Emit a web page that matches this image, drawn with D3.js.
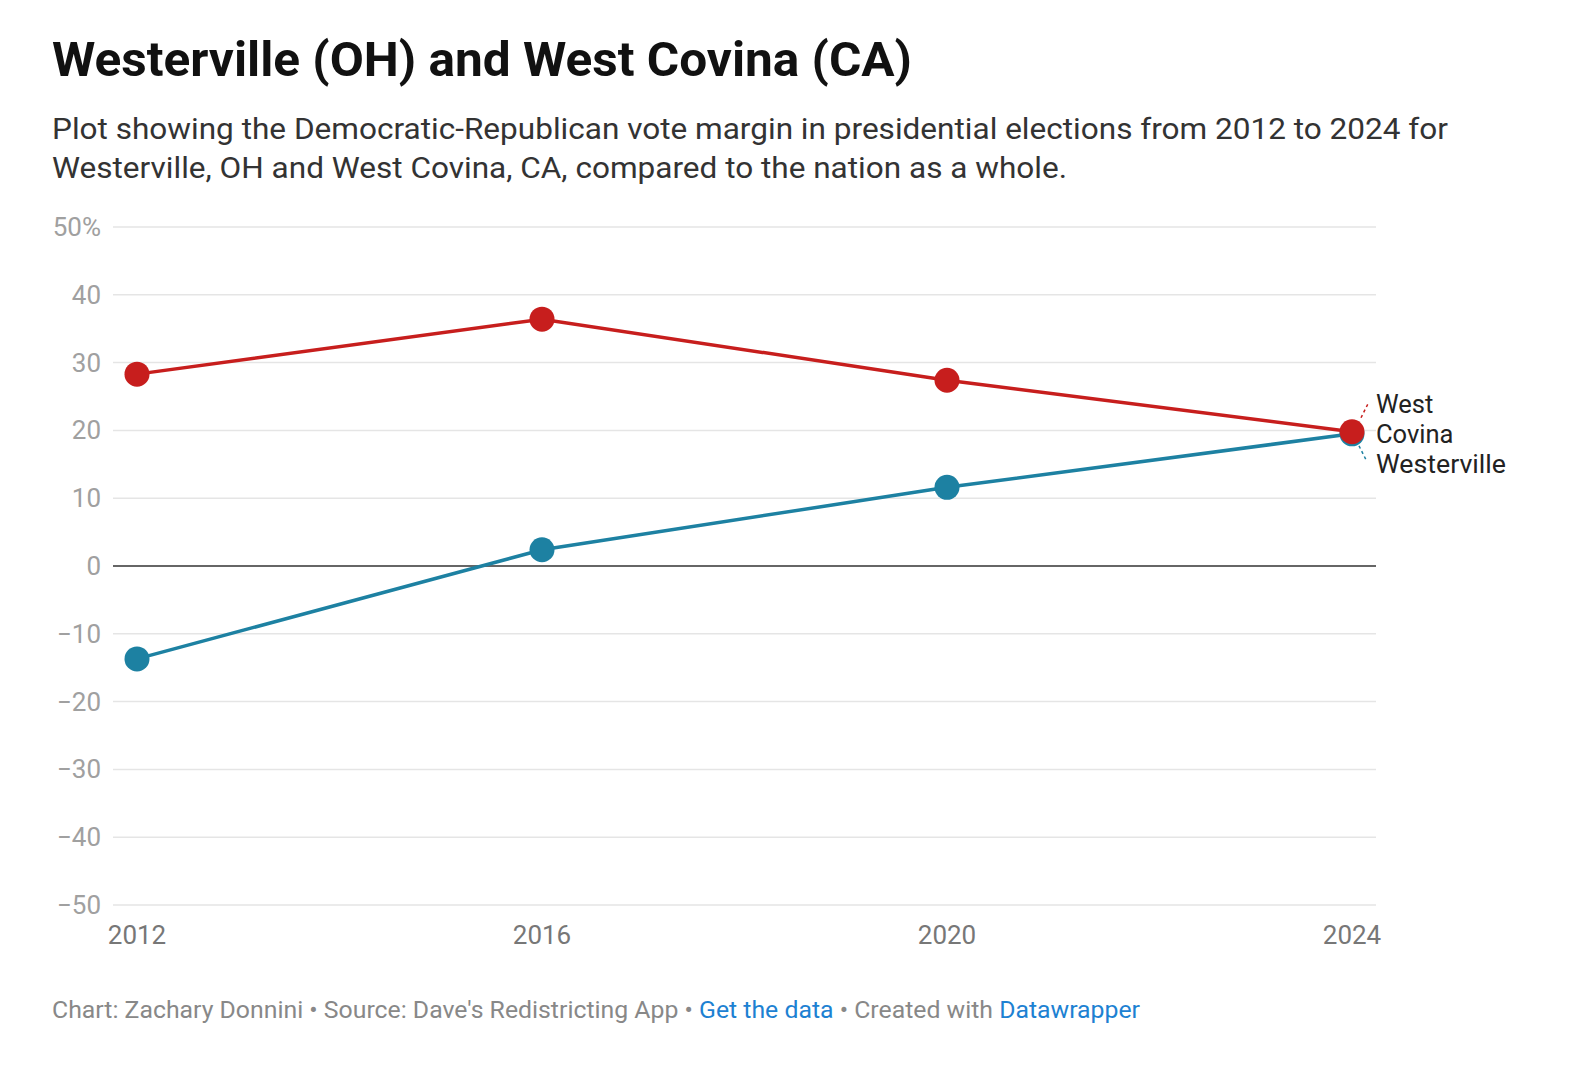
<!DOCTYPE html>
<html><head><meta charset="utf-8">
<script src="https://cdn.jsdelivr.net/npm/d3@7"></script>
<style>
body{margin:0;background:#fff;font-family:Roboto,"Noto Sans",sans-serif;}
</style></head>
<body>
<svg id="chart" width="1570" height="1066"></svg>
<script>
const years = [2012, 2016, 2020, 2024];
const westCovina = [28.3, 36.4, 27.4, 19.8];
const westerville = [-13.7, 2.4, 11.6, 19.5];
const yTicks = [50, 40, 30, 20, 10, 0, -10, -20, -30, -40, -50];
const seriesNames = ["West Covina", "Westerville"];
const colors = ["#c71e1d", "#1d81a2"];

const svg = d3.select("#chart");
const x = d3.scaleLinear().domain([2012, 2024]).range([137, 1352]);
const y = d3.scaleLinear().domain([-50, 50]).range([905, 227]);

svg.append("text").attr("x", 52).attr("y", 76).attr("font-size", 48).attr("font-weight", 700)
  .attr("fill", "#111").attr("textLength", 860).attr("lengthAdjust", "spacingAndGlyphs")
  .text("Westerville (OH) and West Covina (CA)");
svg.append("text").attr("x", 52).attr("y", 139).attr("font-size", 29).attr("fill", "#333")
  .attr("textLength", 1396).attr("lengthAdjust", "spacingAndGlyphs")
  .text("Plot showing the Democratic-Republican vote margin in presidential elections from 2012 to 2024 for");
svg.append("text").attr("x", 52).attr("y", 178).attr("font-size", 29).attr("fill", "#333")
  .attr("textLength", 1015).attr("lengthAdjust", "spacingAndGlyphs")
  .text("Westerville, OH and West Covina, CA, compared to the nation as a whole.");

// grid
const g = svg.append("g");
g.selectAll("line.grid").data(yTicks).join("line")
  .attr("x1", 113).attr("x2", 1376)
  .attr("y1", d => y(d)).attr("y2", d => y(d))
  .attr("stroke", d => d === 0 ? "#333" : "#e5e5e5")
  .attr("stroke-width", d => d === 0 ? 1.6 : 1.5);

g.selectAll("text.yt").data(yTicks).join("text")
  .attr("x", 101).attr("y", d => y(d) + 9)
  .attr("text-anchor", "end").attr("font-size", 26).attr("fill", "#a0a0a0")
  .text(d => d === 50 ? "50%" : (d < 0 ? "\u2212" + Math.abs(d) : d));

g.selectAll("text.xt").data(years).join("text")
  .attr("x", d => x(d)).attr("y", 944)
  .attr("text-anchor", "middle").attr("font-size", 26).attr("fill", "#777")
  .text(d => d);

const series = [westCovina, westerville];
const line = d3.line().x((d, i) => x(years[i])).y(d => y(d));
series.forEach((vals, si) => {
  svg.append("path").attr("d", line(vals)).attr("fill", "none")
    .attr("stroke", colors[si]).attr("stroke-width", 3.5);
});
// draw Westerville dots first so West Covina's 2024 dot sits on top
[1, 0].forEach(si => {
  svg.append("g").selectAll("circle").data(series[si]).join("circle")
    .attr("cx", (d, i) => x(years[i])).attr("cy", d => y(d)).attr("r", 12.5)
    .attr("fill", colors[si]);
});

// labels
const lx = x(2024);
svg.append("line").attr("x1", lx + 9).attr("y1", y(westCovina[3]) - 14)
  .attr("x2", lx + 17).attr("y2", y(westCovina[3]) - 30)
  .attr("stroke", colors[0]).attr("stroke-width", 1.5).attr("stroke-dasharray", "3,3");
svg.append("line").attr("x1", lx + 7).attr("y1", y(westerville[3]) + 12)
  .attr("x2", lx + 15).attr("y2", y(westerville[3]) + 28)
  .attr("stroke", colors[1]).attr("stroke-width", 1.5).attr("stroke-dasharray", "3,3");

const lab = svg.append("text").attr("font-size", 25.5).attr("fill", "#222");
lab.append("tspan").attr("x", 1376).attr("y", 413).text("West");
lab.append("tspan").attr("x", 1376).attr("y", 443).text("Covina");
svg.append("text").attr("x", 1376).attr("y", 473).attr("font-size", 25.5).attr("fill", "#222")
  .attr("textLength", 130).attr("lengthAdjust", "spacingAndGlyphs").text(seriesNames[1]);

// footer
const f = svg.append("text").attr("x", 52).attr("y", 1018).attr("font-size", 24).attr("fill", "#888")
  .attr("textLength", 1088).attr("lengthAdjust", "spacingAndGlyphs");
f.append("tspan").text("Chart: Zachary Donnini \u2022 Source: Dave's Redistricting App \u2022 ");
f.append("tspan").attr("fill", "#1d81d2").text("Get the data");
f.append("tspan").text(" \u2022 Created with ");
f.append("tspan").attr("fill", "#1d81d2").text("Datawrapper");
</script>
</body></html>
